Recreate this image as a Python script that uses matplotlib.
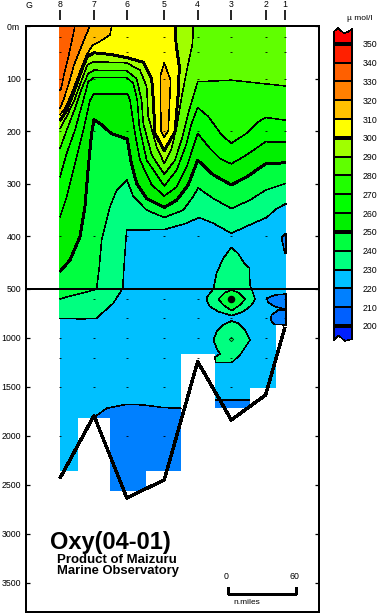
import numpy as np
import matplotlib
matplotlib.use('Agg')
import matplotlib.pyplot as plt

plt.rcParams['font.family'] = ['Liberation Sans', 'DejaVu Sans']
plt.rcParams['lines.antialiased'] = False
plt.rcParams['patch.antialiased'] = False
plt.rcParams['lines.solid_capstyle'] = 'butt'

# stations along the section, distance in n.miles from station 8
station_names = ['8', '7', '6', '5', '4', '3', '2', '1']
station_x = [0, 30, 59, 92, 121.5, 151.2, 181.5, 198.5]
bottom_depth = [2431, 1792, 2632, 2448, 1241, 1836, 1581, 891]
obs_depth = [20, 50, 100, 200, 400, 600, 800, 1000, 1200, 1500, 2000]

# deepest cell of the data under each column
column_edges = [0, 15.9, 44.1, 75.6, 106.8, 136.8, 167.6, 190.6, 199.4]
column_bottom = [2353, 1812, 2557, 2353, 1163, 1710, 1506, 867]

# isolines, depth read at each distance
x_330 = [0, 1, 3.5, 6.8, 10.3, 13.2]
d_330 = [122, 119, 93, 65, 30, 0]
x_320 = [0, 3, 7.4, 12.4, 17.6, 23, 26.5]
d_320 = [157, 141, 112, 74, 46, 17, 0]
x_310 = [0, 4.4, 10.3, 17.6, 23.5, 28.8, 34.7, 44.1, 45.6]
d_310 = [169, 157, 128, 87, 55, 36, 30, 17, 0]
x_300 = [0, 5.9, 11.8, 19.1, 24.1, 30, 44.1, 58.8, 73.5, 80.9, 82.4, 83.8, 92, 101.5, 104.4, 105.3, 102.4, 102]
d_300 = [180, 160, 128, 84, 58, 51, 54, 60, 69, 100, 141, 204, 237, 201, 128, 77, 33, 0]
x_290 = [0, 5.9, 13.2, 19.1, 24.1, 30, 58.8, 70.6, 76.5, 77.9, 85.3, 92, 98.5, 103, 107.4, 113.2, 117, 117.6]
d_290 = [195, 172, 138, 103, 74, 68, 70, 84, 115, 172, 230, 261, 233, 191, 134, 71, 33, 0]
x_280 = [0, 5.9, 13.2, 19.1, 25, 30, 58.8, 67.6, 72, 73.5, 80.9, 92, 101.5, 108.2, 113.2, 121.5, 151.2, 181.5, 199.4]
d_280 = [233, 198, 157, 119, 90, 84, 85, 100, 141, 185, 245, 282, 255, 210, 166, 106, 103, 110, 114]
x_270 = [0, 5.9, 13.2, 20.6, 25, 30, 58.8, 64.7, 68.2, 70, 76.5, 92, 103, 111.8, 116.2, 121.5, 130.9, 142.6, 151.2, 164.7, 175, 181.5, 199.4]
d_270 = [287, 242, 198, 141, 106, 98, 98, 109, 141, 191, 255, 304, 274, 223, 185, 155, 172, 207, 223, 204, 182, 174, 179]
x_260 = [0, 5.9, 13.2, 20.6, 26.5, 30, 59.7, 61.8, 66.2, 70.6, 80.9, 92, 103, 111.8, 117.6, 121.5, 132.4, 141.2, 151.2, 164.7, 181.5, 199.4]
d_260 = [363, 325, 261, 198, 141, 129, 129, 141, 204, 255, 302, 323, 306, 268, 230, 204, 233, 252, 262, 245, 220, 221]
x_250 = [0, 8.8, 17.6, 22, 25, 27.9, 30, 36.8, 45.6, 59.4, 62.4, 67.6, 76.5, 92, 103, 113.2, 121.5, 135.3, 151.2, 164.7, 181.5, 199.4]
d_250 = [467, 445, 401, 344, 268, 204, 178, 188, 205, 215, 255, 299, 328, 345, 331, 302, 255, 283, 302, 287, 262, 260]
x_240 = [0, 30, 32.3, 34.4, 36.8, 44.1, 50, 59, 64.7, 76.5, 92, 108.8, 117.6, 122, 135.3, 151.2, 167.6, 181.5, 199.4]
d_240 = [600, 510, 500, 464, 407, 344, 312, 293, 324, 350, 364, 350, 324, 308, 328, 347, 331, 312, 299]
x_230 = [0, 19, 32, 47, 54.4, 55.3, 56.5, 58.8, 92, 111.8, 122.6, 135.3, 151.2, 170.6, 182.4, 191.2, 199.4]
d_230 = [800, 805, 800, 646, 510, 500, 457, 388, 387, 375, 364, 375, 394, 375, 364, 347, 338]

# the lower boundary of the 210-220 water, two pieces
x_220a = [30.9, 41.2, 58.8, 73.5, 91.2, 106.8]
d_220a = [1802, 1717, 1676, 1683, 1710, 1717]
x_220b = [136.8, 167.6]
d_220b = [1636, 1636]

# closed isolines
blob_310_x = [92, 88.8, 89, 92, 95.6, 97.6]
blob_310_d = [70, 93, 198, 212, 198, 103]
blob_230a_x = [151.2, 144, 138.2, 135.4, 130, 129.5, 132.4, 139.8, 151.5, 161.8, 169.2, 172.1, 170, 167.7, 167.1, 163, 157]
blob_230a_d = [421, 442, 470, 500, 578, 619, 680, 731, 772, 731, 663, 605, 527, 493, 460, 452, 432]
blob_240a_x = [139.8, 145.6, 151.5, 157.4, 163.3, 158.9, 151.5, 144.2]
blob_240a_d = [605, 537, 510, 537, 605, 663, 721, 663]
blob_230b_x = [151.5, 144.2, 138.3, 135.4, 138.3, 141.2, 136.8, 137.4, 151.5, 158.9, 167.7, 163.3, 157.4]
blob_230b_d = [826, 867, 935, 1020, 1105, 1163, 1197, 1251, 1251, 1173, 1020, 918, 850]
blob_220a_x = [199.4, 189.8, 182.4, 183.9, 189.8, 199.4]
blob_220a_d = [551, 561, 595, 639, 680, 707]
blob_220b_x = [199.4, 192.7, 186.8, 185.9, 188.9, 199.4]
blob_220b_d = [714, 714, 765, 816, 860, 867]
blob_220c_x = [199.4, 195.6, 196.5, 198.5, 199.4]
blob_220c_d = [394, 402, 413, 432, 432]

# colour scale
band_levels = [200, 210, 220, 230, 240, 250, 260, 270, 280, 290, 300, 310, 320, 330, 340]
band_colors = ['#0060ff', '#0080ff', '#00c0ff', '#00ff80', '#00ff40', '#00f000', '#00ff00', '#20ff00',
               '#60ff00', '#a0ff00', '#ffff00', '#ffc000', '#ff8000', '#ff6000', '#ff2000']
color_low = '#0020ff'
color_high = '#ff0000'
thick_levels = [200, 250, 300, 350]

depth_ticks = [0, 100, 200, 300, 400, 500, 1000, 1500, 2000, 2500, 3000, 3500]
depth_labels = ['0m ', '100', '200', '300', '400', '500', '1000', '1500', '2000', '2500', '3000', '3500']

THIN = 0.35
THICK = 1.4


def band_color(level):
    return band_colors[band_levels.index(level)]


def depth_fwd(d):
    d = np.asarray(d, dtype=float)
    return np.where(d <= 500, d * 0.526, 263 + (d - 500) * 0.098)


def depth_inv(p):
    p = np.asarray(p, dtype=float)
    return np.where(p <= 263, p / 0.526, 500 + (p - 263) / 0.098)


def fill_above(ax, x, d, level):
    # everything between the isoline and the surface
    ax.fill(list(x) + [x[-1], x[0]], list(d) + [0, 0], color=band_color(level), lw=0)


def fill_closed(ax, x, d, level):
    ax.fill(x, d, color=band_color(level), lw=0)
    ax.plot(list(x) + [x[0]], list(d) + [d[0]], color='black', lw=THIN)


W, H = 380, 615
fig = plt.figure(figsize=(W / 100, H / 100), dpi=100)
ax = fig.add_axes([26 / W, (H - 612) / H, 293 / W, 586 / H])
ax.set_yscale('function', functions=(depth_fwd, depth_inv))
ax.set_xlim(-30, 228.6)
ax.set_ylim(3796, 0)

# data area, painted from low to high oxygen
ax.fill_between([0, 199.4], 0, 2700, color=band_color(220), lw=0)
isolines = [(x_230, d_230, 230), (x_240, d_240, 240), (x_250, d_250, 250), (x_260, d_260, 260),
            (x_270, d_270, 270), (x_280, d_280, 280), (x_290, d_290, 290), (x_300, d_300, 300),
            (x_310, d_310, 310), (x_320, d_320, 320), (x_330, d_330, 330)]
for x, d, level in isolines:
    fill_above(ax, x, d, level)

for x, d in [(x_220a, d_220a), (x_220b, d_220b)]:
    ax.fill(list(x) + [x[-1], x[0]], list(d) + [2700, 2700], color=band_color(210), lw=0)
    ax.plot(x, d, color='black', lw=THIN)

fill_closed(ax, blob_310_x, blob_310_d, 310)
fill_closed(ax, blob_230a_x, blob_230a_d, 230)
fill_closed(ax, blob_240a_x, blob_240a_d, 240)
fill_closed(ax, blob_230b_x, blob_230b_d, 230)
fill_closed(ax, blob_220a_x, blob_220a_d, 210)
fill_closed(ax, blob_220b_x, blob_220b_d, 210)
fill_closed(ax, blob_220c_x, blob_220c_d, 210)

# no data below the sea bed cells
for i in range(len(column_bottom)):
    ax.fill_between(column_edges[i:i + 2], column_bottom[i], 2800, color='white', lw=0)

for x, d, level in isolines:
    ax.plot(x, d, color='black', lw=THICK if level in thick_levels else THIN)

# small closed contours around the minimum and maximum at station 3
ax.plot([151.2], [605], 'o', color='black', ms=4.4)
ax.plot([151.2], [1013], 'D', mfc=band_color(240), mec='black', mew=0.5, ms=2.2)

# observation depths
for sx, bd in zip(station_x, bottom_depth):
    ds = [d for d in obs_depth if d < bd]
    ax.plot([sx] * len(ds), ds, '_', color='black', ms=2, mew=0.6)

ax.plot(station_x, bottom_depth, color='black', lw=1.7)
ax.axhline(500, color='black', lw=1.3)

ax.set_xticks([])
ax.set_yticks(depth_ticks)
ax.set_yticklabels(depth_labels)
ax.minorticks_off()
ax.tick_params(axis='y', direction='in', left=True, right=True, length=3, width=0.9, pad=3.5, labelsize=6.3)
for s in ax.spines.values():
    s.set_linewidth(1.2)

sec = ax.secondary_xaxis(1 + 6 / 586)
sec.set_xticks(station_x)
sec.set_xticklabels(station_names)
sec.spines['top'].set_visible(False)
sec.tick_params(axis='x', direction='out', length=7.2, width=1.2, pad=0.8, labelsize=6.3)
fig.text(29 / W, 1 - 6 / H, 'G', ha='center', va='center', fontsize=6.3)

# scale bar
ax.plot([148, 148, 208, 208], [3545, 3612, 3612, 3545], color='black', lw=0.9)
ax.text(146.5, 3480, '0', ha='center', va='bottom', fontsize=6.3)
ax.text(206.5, 3480, '60', ha='center', va='bottom', fontsize=6.3)
ax.text(165, 3704, 'n.miles', ha='center', va='center', fontsize=6)

ax.text(-9, 3085, 'Oxy(04-01)', ha='left', va='center', fontsize=17, fontweight='bold')
ax.text(-3, 3265, 'Product of Maizuru', ha='left', va='center', fontsize=9.5, fontweight='bold')
ax.text(-3, 3375, 'Marine Observatory', ha='left', va='center', fontsize=9.4, fontweight='bold')

# colour bar
cax = fig.add_axes([334 / W, (H - 344.8) / H, 18 / W, 319.8 / H])
cax.set_xlim(0, 1)
cax.set_ylim(190, 360)
for level, c in zip(band_levels, band_colors):
    cax.bar(0.5, 10, width=1, bottom=level, color=c, lw=0)
top_x = [0, 0.22, 0.55, 0.8, 1]
top_y = [356.5, 358.5, 355.5, 356.5, 358]
bot_x = [0, 0.25, 0.6, 1]
bot_y = [192.5, 195, 192, 193]
cax.fill([0] + top_x + [1], [350] + top_y + [350], color=color_high, lw=0)
cax.fill([0] + bot_x + [1], [200] + bot_y + [200], color=color_low, lw=0)
cax.plot(top_x, top_y, color='black', lw=THIN, clip_on=False)
cax.plot(bot_x, bot_y, color='black', lw=THIN, clip_on=False)
cax.plot([0, 0], [bot_y[0], top_y[0]], color='black', lw=THIN, clip_on=False)
cax.plot([1, 1], [bot_y[-1], top_y[-1]], color='black', lw=THIN, clip_on=False)
for level in band_levels + [350]:
    cax.plot([0, 1], [level, level], color='black', lw=1.6 if level in thick_levels else THIN, clip_on=False)
for s in cax.spines.values():
    s.set_visible(False)
cax.set_xticks([])
cax.yaxis.tick_right()
cax.set_yticks(band_levels + [350])
cax.tick_params(axis='y', length=0, pad=7.5, labelsize=6.3)
fig.text(359.5 / W, 1 - 18 / H, 'µ mol/l', ha='center', va='center', fontsize=6)

fig.savefig('out.png', dpi=100)
